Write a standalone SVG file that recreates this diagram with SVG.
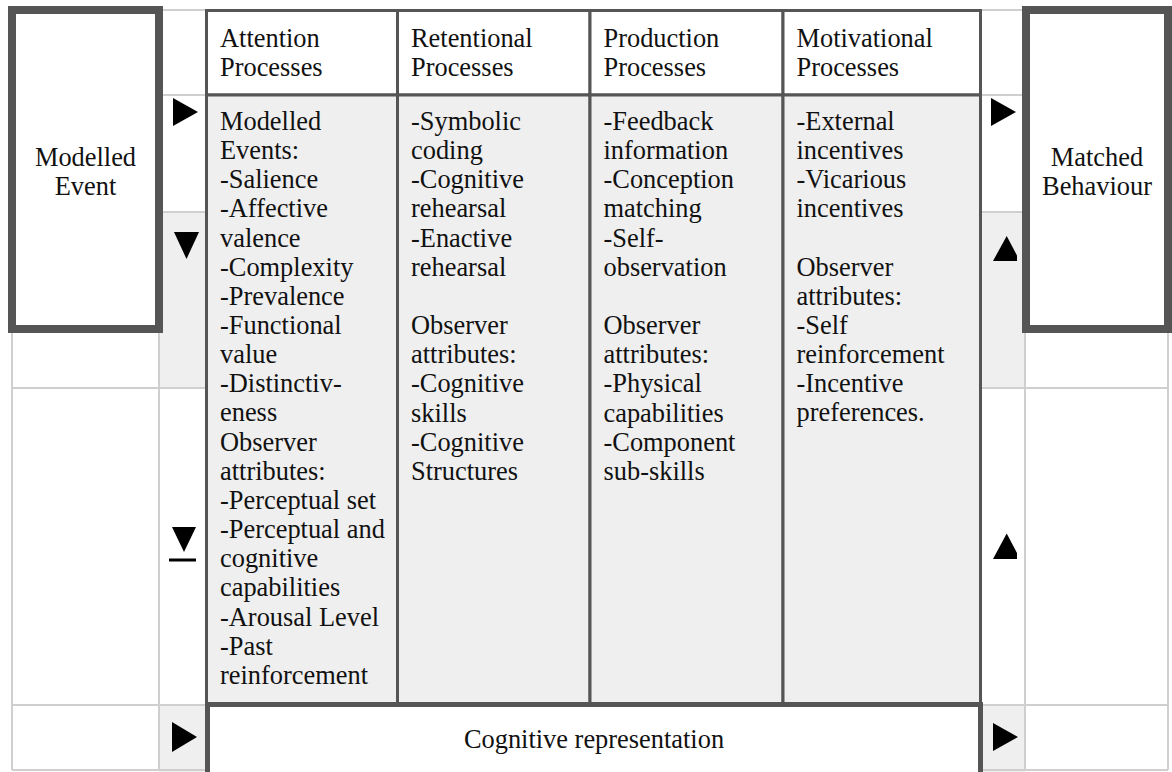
<svg xmlns="http://www.w3.org/2000/svg" width="1172" height="772" viewBox="0 0 1172 772">
<style>
text{font-family:"Liberation Serif","Times New Roman",serif;font-size:26.4px;fill:#111}
.c{text-anchor:middle}
.grid{stroke:#cfcfcf;stroke-width:2;fill:none}
.gray{fill:#efefef}
.box{fill:#fff;stroke:#555;stroke-width:8}
.hd{fill:#fff;stroke:#555;stroke-width:3}
.bd{fill:#efefef;stroke:#555;stroke-width:3}
.arr{fill:#000}
</style>
<rect width="1172" height="772" fill="#fff"/>
<g id="grid">
<rect class="gray" x="159" y="212" width="46" height="176"/>
<rect class="gray" x="159" y="705" width="46" height="67"/>
<rect class="gray" x="981" y="212" width="44" height="176"/>
<rect class="gray" x="981" y="705" width="44" height="67"/>
<path class="grid" d="M159 10H205M980 10H1026M12 95H205M980 95H1168M12 212H205M980 212H1168M12 388H205M980 388H1168M12 705H205M980 705H1168M12 770H1168M12 10V770M159 10V770M1025 10V770M1168 10V770"/>
</g>
<g id="modelled-event">
<rect class="box" x="12" y="10" width="147" height="319"/>
<text class="c" x="85.5" y="166">Modelled</text>
<text class="c" x="85.5" y="195">Event</text>
</g>
<g id="matched-behaviour">
<rect class="box" x="1026" y="10" width="142" height="319"/>
<text class="c" x="1097" y="166">Matched</text>
<text class="c" x="1097" y="195">Behaviour</text>
</g>
<g id="attention">
<rect class="hd" x="206.5" y="10.5" width="191" height="84.5"/>
<rect class="bd" x="206.5" y="95" width="191" height="609"/>
<text x="220" y="47">Attention<tspan x="220" dy="29">Processes</tspan></text>
<text x="220" y="130">Modelled<tspan x="220" dy="29.15">Events:</tspan><tspan x="220" dy="29.15">-Salience</tspan><tspan x="220" dy="29.15">-Affective</tspan><tspan x="220" dy="29.15">valence</tspan><tspan x="220" dy="29.15">-Complexity</tspan><tspan x="220" dy="29.15">-Prevalence</tspan><tspan x="220" dy="29.15">-Functional</tspan><tspan x="220" dy="29.15">value</tspan><tspan x="220" dy="29.15">-Distinctiv-</tspan><tspan x="220" dy="29.15">eness</tspan><tspan x="220" dy="29.15">Observer</tspan><tspan x="220" dy="29.15">attributes:</tspan><tspan x="220" dy="29.15">-Perceptual set</tspan><tspan x="220" dy="29.15">-Perceptual and</tspan><tspan x="220" dy="29.15">cognitive</tspan><tspan x="220" dy="29.15">capabilities</tspan><tspan x="220" dy="29.15">-Arousal Level</tspan><tspan x="220" dy="29.15">-Past</tspan><tspan x="220" dy="29.15">reinforcement</tspan></text>
</g>
<g id="retentional">
<rect class="hd" x="397.5" y="10.5" width="192.5" height="84.5"/>
<rect class="bd" x="397.5" y="95" width="192.5" height="609"/>
<text x="411" y="47">Retentional<tspan x="411" dy="29">Processes</tspan></text>
<text x="411" y="130">-Symbolic<tspan x="411" dy="29.15">coding</tspan><tspan x="411" dy="29.15">-Cognitive</tspan><tspan x="411" dy="29.15">rehearsal</tspan><tspan x="411" dy="29.15">-Enactive</tspan><tspan x="411" dy="29.15">rehearsal</tspan><tspan x="411" dy="58.3">Observer</tspan><tspan x="411" dy="29.15">attributes:</tspan><tspan x="411" dy="29.15">-Cognitive</tspan><tspan x="411" dy="29.15">skills</tspan><tspan x="411" dy="29.15">-Cognitive</tspan><tspan x="411" dy="29.15">Structures</tspan></text>
</g>
<g id="production">
<rect class="hd" x="590" y="10.5" width="193" height="84.5"/>
<rect class="bd" x="590" y="95" width="193" height="609"/>
<text x="603.5" y="47">Production<tspan x="603.5" dy="29">Processes</tspan></text>
<text x="603.5" y="130">-Feedback<tspan x="603.5" dy="29.15">information</tspan><tspan x="603.5" dy="29.15">-Conception</tspan><tspan x="603.5" dy="29.15">matching</tspan><tspan x="603.5" dy="29.15">-Self-</tspan><tspan x="603.5" dy="29.15">observation</tspan><tspan x="603.5" dy="58.3">Observer</tspan><tspan x="603.5" dy="29.15">attributes:</tspan><tspan x="603.5" dy="29.15">-Physical</tspan><tspan x="603.5" dy="29.15">capabilities</tspan><tspan x="603.5" dy="29.15">-Component</tspan><tspan x="603.5" dy="29.15">sub-skills</tspan></text>
</g>
<g id="motivational">
<rect class="hd" x="783" y="10.5" width="197.5" height="84.5"/>
<rect class="bd" x="783" y="95" width="197.5" height="609"/>
<text x="796.5" y="47">Motivational<tspan x="796.5" dy="29">Processes</tspan></text>
<text x="796.5" y="130">-External<tspan x="796.5" dy="29.15">incentives</tspan><tspan x="796.5" dy="29.15">-Vicarious</tspan><tspan x="796.5" dy="29.15">incentives</tspan><tspan x="796.5" dy="58.3">Observer</tspan><tspan x="796.5" dy="29.15">attributes:</tspan><tspan x="796.5" dy="29.15">-Self</tspan><tspan x="796.5" dy="29.15">reinforcement</tspan><tspan x="796.5" dy="29.15">-Incentive</tspan><tspan x="796.5" dy="29.15">preferences.</tspan></text>
</g>
<g id="cognitive-representation">
<path d="M207.5 772V704.5H980.5V772" fill="#fff" stroke="#555" stroke-width="5"/>
<text class="c" x="594" y="748">Cognitive representation</text>
</g>
<g id="connectors">
<polygon class="arr" points="173,98 173,126 198,112"/>
<polygon class="arr" points="991,98 991,126 1016,112"/>
<polygon class="arr" points="174,232 199,232 186.5,259"/>
<polygon class="arr" points="172,527 196,527 184,552"/>
<rect class="arr" x="169" y="558.5" width="27" height="3"/>
<polygon class="arr" points="993,261 1006.7,236 1017,255.4 1017,261"/>
<polygon class="arr" points="993,559 1006.7,533.5 1017,553 1017,559"/>
<polygon class="arr" points="172,722 172,752 197,737"/>
<polygon class="arr" points="993,723 993,751 1018,737"/>
</g>
</svg>
